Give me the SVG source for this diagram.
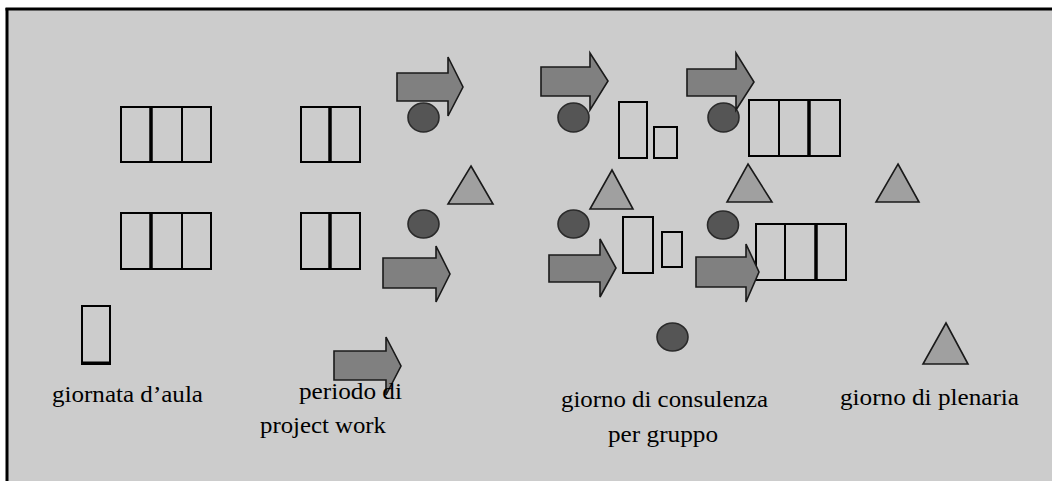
<svg xmlns="http://www.w3.org/2000/svg" width="1052" height="481" viewBox="0 0 1052 481">
  <style>
    .cell{fill:none;stroke:#000;stroke-width:2}
    .div{stroke:#000;stroke-width:2}
    .thick{stroke:#000;stroke-width:3.5}
    .arrow{fill:#808080;stroke:#1a1a1a;stroke-width:1.6;stroke-linejoin:miter}
    .dot{fill:#555555;stroke:#2a2a2a;stroke-width:1.6}
    .tri{fill:#a0a0a0;stroke:#1a1a1a;stroke-width:1.6}
    .lbl{font-family:"Liberation Serif","Times New Roman",serif;font-size:24px;fill:#000}
  </style>
  <rect x="0" y="0" width="1052" height="481" fill="#ffffff"/>
  <rect x="7" y="9" width="1045" height="472" fill="#cccccc"/>
  <line x1="5.5" y1="9" x2="1052" y2="9" stroke="#000" stroke-width="3"/>
  <line x1="7" y1="8" x2="7" y2="481" stroke="#000" stroke-width="3"/>

  <g id="aula-row1">
    <rect class="cell" x="121" y="107" width="90" height="55"/>
    <line class="thick" x1="151" y1="107" x2="151" y2="162"/>
    <line class="div" x1="182" y1="107" x2="182" y2="162"/>
  </g>
  <g id="aula-row2">
    <rect class="cell" x="121" y="213" width="90" height="56"/>
    <line class="thick" x1="151" y1="213" x2="151" y2="269"/>
    <line class="div" x1="182" y1="213" x2="182" y2="269"/>
  </g>
  <g id="aula2-row1">
    <rect class="cell" x="301" y="107" width="59" height="55"/>
    <line class="thick" x1="330" y1="107" x2="330" y2="162"/>
  </g>
  <g id="aula2-row2">
    <rect class="cell" x="301" y="213" width="59" height="56"/>
    <line class="thick" x1="330" y1="213" x2="330" y2="269"/>
  </g>
  <g id="aula3-row1">
    <rect class="cell" x="749" y="100" width="91" height="56"/>
    <line class="div" x1="779" y1="100" x2="779" y2="156"/>
    <line class="thick" x1="809" y1="100" x2="809" y2="156"/>
  </g>
  <g id="rects-row1">
    <rect class="cell" x="619" y="102" width="28" height="56"/>
    <rect class="cell" x="654" y="127" width="23" height="31"/>
  </g>
  <g id="rects-row2">
    <rect class="cell" x="623" y="217" width="30" height="56"/>
    <rect class="cell" x="662" y="232" width="20" height="35"/>
  </g>
  <g id="aula3-row2">
    <rect class="cell" x="756" y="224" width="90" height="56"/>
    <line class="div" x1="785" y1="224" x2="785" y2="280"/>
    <line class="thick" x1="816" y1="224" x2="816" y2="280"/>
  </g>

  <g id="circles">
    <ellipse class="dot" cx="423.5" cy="117.5" rx="15.5" ry="14.5"/>
    <ellipse class="dot" cx="573.5" cy="117.5" rx="15.5" ry="14.5"/>
    <ellipse class="dot" cx="723.5" cy="117.5" rx="15.5" ry="14.5"/>
    <ellipse class="dot" cx="423.5" cy="224" rx="15.5" ry="14"/>
    <ellipse class="dot" cx="573.5" cy="224" rx="15.5" ry="14"/>
    <ellipse class="dot" cx="723" cy="225" rx="15.5" ry="14"/>
  </g>

  <g id="triangles">
    <polygon class="tri" points="471,166 493,204 448,204"/>
    <polygon class="tri" points="612,170 633,209 590,209"/>
    <polygon class="tri" points="748,164 772,202 727,202"/>
    <polygon class="tri" points="898,164 919,202 876,202"/>
  </g>

  <g id="arrows">
    <polygon class="arrow" points="397,73 448,73 448,57 463,87 448,116 448,101 397,101"/>
    <polygon class="arrow" points="541,67 590,67 590,53 608,81 590,110 590,96 541,96"/>
    <polygon class="arrow" points="687,69 736,69 736,53 754,82 736,110 736,96 687,96"/>
    <polygon class="arrow" points="383,258 436,258 436,246 450,274 436,302 436,288 383,288"/>
    <polygon class="arrow" points="549,255 600,255 600,239 616,268 600,297 600,282 549,282"/>
    <polygon class="arrow" points="696,257 746,257 746,244 759,272 746,302 746,287 696,287"/>
  </g>

  <g id="legend-aula">
    <rect class="cell" x="82" y="306" width="28" height="58"/>
    <line x1="82" y1="363" x2="110" y2="363" stroke="#000" stroke-width="3"/>
    <text class="lbl" x="52" y="402" textLength="151" lengthAdjust="spacingAndGlyphs">giornata d’aula</text>
  </g>
  <g id="legend-project">
    <polygon class="arrow" points="334,351 386,351 386,337 401,366 386,395 386,380 334,380"/>
    <text class="lbl" x="299" y="399" textLength="103" lengthAdjust="spacingAndGlyphs">periodo di</text>
    <text class="lbl" x="260" y="433" textLength="126" lengthAdjust="spacingAndGlyphs">project work</text>
  </g>
  <g id="legend-consulenza">
    <ellipse class="dot" cx="672.5" cy="337" rx="15.5" ry="14"/>
    <text class="lbl" x="561" y="407" textLength="207" lengthAdjust="spacingAndGlyphs">giorno di consulenza</text>
    <text class="lbl" x="608" y="442" textLength="110" lengthAdjust="spacingAndGlyphs">per gruppo</text>
  </g>
  <g id="legend-plenaria">
    <polygon class="tri" points="946,323 968,364 923,364"/>
    <text class="lbl" x="840" y="405" textLength="179" lengthAdjust="spacingAndGlyphs">giorno di plenaria</text>
  </g>
</svg>
